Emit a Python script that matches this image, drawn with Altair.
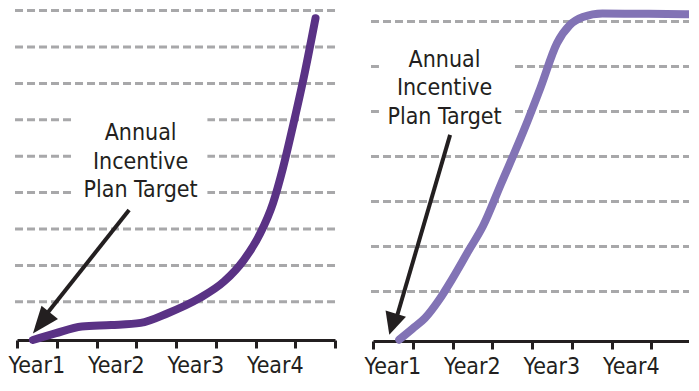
import altair as alt
import pandas as pd

# ---------------- data (x in tick steps, y in grid steps) ----------------
left_x = [0.40, 0.96, 1.63, 2.37, 3.11, 3.78, 4.59, 5.21, 5.70, 6.12, 6.44, 6.69, 6.94, 7.21, 7.51]
left_y = [0.00, 0.18, 0.37, 0.41, 0.47, 0.73, 1.15, 1.61, 2.19, 2.93, 3.76, 4.72, 5.87, 7.19, 8.84]
left_grid = [1.05, 2.05, 3.05, 4.05, 5.05, 6.05, 7.05, 8.05, 9.05]

right_x = [0.66, 0.99, 1.31, 1.66, 1.98, 2.40, 2.77, 3.22, 3.79, 4.21, 4.63, 4.95, 5.28, 5.77, 6.93, 7.93]
right_y = [0.03, 0.27, 0.51, 0.91, 1.36, 2.00, 2.56, 3.49, 4.67, 5.62, 6.62, 7.02, 7.20, 7.28, 7.27, 7.26]
right_grid = [1.10, 2.10, 3.10, 4.10, 5.10, 6.10, 7.10]

tick_values = [0, 1, 2, 3, 4, 5, 6, 7, 8]
year_labels = ["Year1", "Year2", "Year3", "Year4"]
year_pos = [0.5, 2.5, 4.5, 6.5]
annotation = "Annual\nIncentive\nPlan Target"

FONT = "DejaVu Sans Condensed, Liberation Sans Narrow, DejaVu Sans"
INK = "#231f20"
GRID = "#a8a8aa"
PANEL_W = 318


def panel(xs, ys, grid, ymax, height, color, note, box, arrow, head_path, head_size, gx):
    xs_scale = alt.Scale(domain=[0, 8], nice=False, zero=False)
    ys_scale = alt.Scale(domain=[0, ymax], nice=False, zero=False)
    xaxis = alt.Axis(
        values=tick_values, title=None, grid=False, labels=False,
        domainColor=INK, domainWidth=3, tickColor=INK, tickWidth=3, tickSize=8,
    )

    def X(f):
        return alt.X(f, scale=xs_scale, axis=xaxis, title=None)

    def Y(f):
        return alt.Y(f, scale=ys_scale, axis=None, title=None)

    gdf = pd.DataFrame({"level": grid, "x0": gx[0], "x1": gx[1]})
    grid_layer = alt.Chart(gdf).mark_rule(
        color=GRID, strokeWidth=3, strokeDash=[8, 4]
    ).encode(x=X("x0:Q"), x2="x1:Q", y=Y("level:Q"))

    bdf = pd.DataFrame([box])
    box_layer = alt.Chart(bdf).mark_rect(color="white").encode(
        x=X("x0:Q"), x2="x1:Q", y=Y("y0:Q"), y2="y1:Q",
    )

    tdf = pd.DataFrame([{"x": note[0], "y": note[1], "t": annotation}])
    text_layer = alt.Chart(tdf).mark_text(
        font=FONT, fontSize=23, color=INK, align="center", baseline="alphabetic",
        lineBreak="\n", lineHeight=28.5,
    ).encode(x=X("x:Q"), y=Y("y:Q"), text="t:N")

    ydf = pd.DataFrame({"x": year_pos, "t": year_labels})
    years = alt.Chart(ydf).mark_text(
        font=FONT, fontSize=23, color=INK, align="center", baseline="alphabetic",
    ).encode(x=X("x:Q"), y=alt.value(height + 33), text="t:N")

    cdf = pd.DataFrame({"x": xs, "y": ys})
    curve = alt.Chart(cdf).mark_line(
        color=color, strokeWidth=8, strokeCap="round", strokeJoin="round",
        interpolate="monotone",
    ).encode(x=X("x:Q"), y=Y("y:Q"))

    sdf = pd.DataFrame([{"x0": arrow[0], "y0": arrow[1], "x1": arrow[2], "y1": arrow[3]}])
    shaft = alt.Chart(sdf).mark_rule(color=INK, strokeWidth=4).encode(
        x=X("x0:Q"), y=Y("y0:Q"), x2="x1:Q", y2="y1:Q",
    )

    hdf = pd.DataFrame([{"x": arrow[4], "y": arrow[5]}])
    head = alt.Chart(hdf).mark_point(
        shape=head_path, filled=True, color=INK, opacity=1, angle=arrow[6],
        size=head_size, strokeWidth=0,
    ).encode(x=X("x:Q"), y=Y("y:Q"))

    return alt.layer(grid_layer, box_layer, text_layer, years, curve, shaft, head).properties(
        width=PANEL_W, height=height
    )


left = panel(
    left_x, left_y, left_grid, 9.066, 330, "#5a3285",
    note=(3.11, 5.49),
    box={"x0": 1.43, "x1": 4.79, "y0": 3.73, "y1": 6.36},
    arrow=(2.82, 3.57, 0.74, 0.71, 0.40, 0.18, 218.6),
    head_path="M0,0L0.78,2L-0.78,2Z", head_size=729, gx=(-0.05, 8.1),
)
right = panel(
    right_x, right_y, right_grid, 7.356, 331, "#8273b5",
    note=(1.80, 6.10),
    box={"x0": 0.15, "x1": 3.52, "y0": 4.69, "y1": 6.69},
    arrow=(1.94, 4.58, 0.59, 0.51, 0.41, 0.14, 197.1),
    head_path="M0,0L0.97,2L-0.97,2Z", head_size=484, gx=(-0.05, 8.04),
)

chart = alt.hconcat(left, right, spacing=23).properties(
    padding={"left": 0, "top": 1, "right": -6, "bottom": 0},
    background="white",
).configure_view(stroke=None)

chart.save("out.html", embed_options={"renderer": "svg", "actions": False})
